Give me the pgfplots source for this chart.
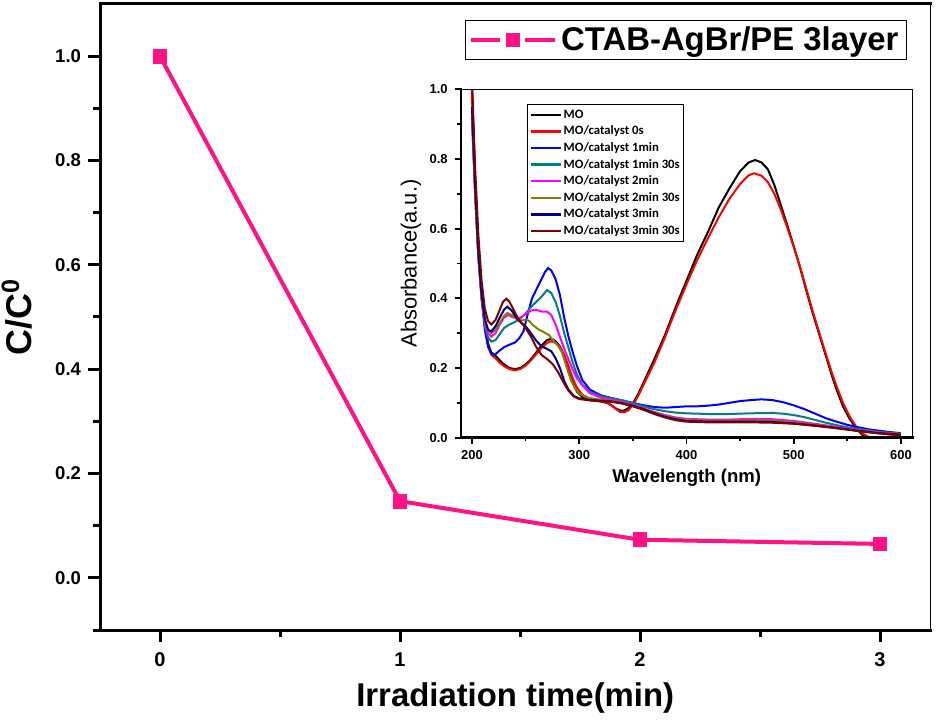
\documentclass[border=0pt]{standalone}
\usepackage{fontspec}
\setmainfont{Liberation Sans}
\newfontfamily\legfont{Carlito}
\usepackage{pgfplots}
\pgfplotsset{compat=1.18}
\definecolor{mopink}{HTML}{FF1283}
\definecolor{octeal}{HTML}{008080}
\definecolor{ocmag}{HTML}{FF00FF}
\definecolor{ocolive}{HTML}{808000}
\definecolor{ocnavy}{HTML}{000080}
\definecolor{ocwine}{HTML}{800000}

\begin{document}
\begin{tikzpicture}
% main decay curve
\begin{axis}[name=main, at={(0,0)}, anchor=south west, scale only axis,
  width=415.2bp, height=313bp,
  xmin=-0.25, xmax=3.21, ymin=-0.1, ymax=1.1,
  axis line style={draw=none},
  xtick={0,1,2,3}, minor xtick={0.5,1.5,2.5},
  ytick={0,0.2,0.4,0.6,0.8,1.0}, minor ytick={-0.1,0.1,0.3,0.5,0.7,0.9},
  tick pos=left, tick align=outside,
  major tick length=6bp, minor tick length=3.5bp,
  every tick/.style={black, line width=1.5bp},
  /pgf/number format/assume math mode=true,
  yticklabel style={font=\bfseries\fontsize{9.3}{10}\selectfont,
    /pgf/number format/fixed, /pgf/number format/fixed zerofill, /pgf/number format/precision=1},
  xticklabel style={font=\bfseries\fontsize{10}{11}\selectfont, yshift=-2bp},
  scaled y ticks=false,
  xlabel={Irradiation time(min)}, ylabel={C/C\textsuperscript{0}},
  xlabel style={at={(axis description cs:0.5,-0.1086)}, anchor=center, font=\bfseries\fontsize{16.5}{18}\selectfont},
  ylabel style={at={(axis description cs:-0.1,0.5)}, anchor=center, font=\bfseries\fontsize{18}{20}\selectfont},
  legend style={at={(0.972,0.974)}, anchor=north east, draw=black, line width=0.6bp,
    font=\bfseries\fontsize{16.5}{18}\selectfont, inner xsep=2bp, inner ysep=1bp},
  legend image code/.code={
    \draw[#1, mark=none] (0bp,0bp) -- (14.5bp,0bp);
    \draw[#1, mark=none] (27bp,0bp) -- (42bp,0bp);
    \draw[#1, only marks, mark size=2.5bp] plot coordinates {(21bp,0bp)};},
]
\addplot[mopink, line width=2bp, mark=square*, mark size=2.7bp, mark options={solid}]
  coordinates {(0,1.0) (1,0.147) (2,0.073) (3,0.065)};
\addlegendentry{CTAB-AgBr/PE 3layer}
\end{axis}

% inset: UV-vis spectra
\begin{axis}[name=ins, at={(180.35bp,96.15bp)}, anchor=south west, scale only axis,
  width=226bp, height=174.2bp,
  xmin=189.5, xmax=611, ymin=0, ymax=1,
  axis line style={draw=none},
  xtick={200,300,400,500,600}, minor xtick={250,350,450,550},
  ytick={0,0.2,0.4,0.6,0.8,1.0}, minor ytick={0.1,0.3,0.5,0.7,0.9},
  tick pos=left, tick align=outside,
  major tick length=3bp, minor tick length=1.8bp,
  every tick/.style={black, line width=0.9bp},
  /pgf/number format/assume math mode=true,
  tick label style={font=\bfseries\fontsize{6.5}{7}\selectfont},
  yticklabel style={/pgf/number format/fixed, /pgf/number format/fixed zerofill, /pgf/number format/precision=1},
  scaled y ticks=false,
  xlabel={Wavelength (nm)}, ylabel={Absorbance(a.u.)},
  xlabel style={at={(axis description cs:0.5,-0.115)}, anchor=center, font=\bfseries\fontsize{9.3}{10}\selectfont},
  ylabel style={at={(axis description cs:-0.11,0.5)}, anchor=center, font=\fontsize{11}{12}\selectfont},
  legend style={at={(0.147,0.958)}, anchor=north west, draw=black, line width=0.6bp,
    font=\legfont\bfseries\fontsize{6.4}{7}\selectfont, inner sep=1bp,
    nodes={inner sep=0.8bp, text height=5.1bp, text depth=1.6bp}},
  legend cell align=left,
  legend image code/.code={\draw[#1, line width=1.2bp] (0bp,0bp) -- (15bp,0bp);},
  every axis plot/.append style={line width=1bp},
]
\addplot[black] table {
200 1.00
203 0.74
206 0.55
209 0.42
212 0.33
215 0.27
218 0.245
222 0.235
226 0.222
230 0.21
235 0.2
240 0.197
245 0.2
250 0.21
255 0.225
260 0.245
265 0.265
270 0.28
274 0.284
278 0.277
282 0.262
286 0.235
290 0.195
294 0.158
298 0.132
303 0.116
310 0.108
320 0.104
326 0.1
330 0.093
334 0.084
338 0.078
342 0.078
346 0.085
350 0.098
355 0.125
360 0.158
370 0.225
380 0.295
390 0.375
400 0.45
410 0.525
420 0.59
430 0.66
440 0.715
450 0.765
458 0.79
464 0.797
470 0.79
476 0.77
482 0.725
488 0.668
494 0.61
500 0.55
506 0.488
512 0.42
518 0.355
524 0.295
530 0.235
536 0.175
540 0.138
546 0.09
552 0.055
558 0.028
564 0.008
570 -0.002
580 0.0
590 0.003
600 0.006
};
\addlegendentry{MO}
\addplot[red] table {
200 1.00
203 0.73
206 0.54
209 0.41
212 0.32
215 0.262
218 0.238
222 0.228
226 0.215
230 0.205
235 0.197
240 0.193
245 0.197
250 0.207
255 0.222
260 0.24
265 0.258
270 0.272
274 0.277
278 0.272
282 0.26
286 0.238
290 0.205
294 0.17
298 0.143
303 0.123
310 0.112
320 0.105
326 0.101
330 0.093
334 0.083
338 0.074
342 0.073
346 0.079
350 0.094
355 0.12
360 0.152
370 0.215
380 0.288
390 0.366
400 0.44
410 0.51
420 0.572
430 0.632
440 0.685
450 0.728
458 0.753
463 0.759
470 0.752
476 0.733
482 0.7
488 0.655
494 0.603
500 0.548
506 0.49
512 0.425
518 0.36
524 0.3
530 0.24
536 0.183
540 0.148
546 0.1
552 0.062
558 0.033
564 0.012
570 0.002
576 0.0
584 0.001
592 0.004
600 0.006
};
\addlegendentry{MO/catalyst 0s}
\addplot[blue] table {
200 0.95
203 0.7
206 0.52
209 0.4
212 0.31
215 0.262
218 0.243
221 0.237
225 0.248
230 0.26
235 0.267
240 0.273
244 0.285
248 0.305
252 0.355
256 0.4
260 0.425
264 0.45
268 0.475
271 0.487
274 0.48
278 0.455
282 0.41
286 0.345
290 0.29
294 0.245
298 0.205
303 0.165
310 0.138
320 0.122
330 0.114
340 0.107
350 0.1
360 0.093
370 0.088
380 0.086
390 0.088
400 0.09
410 0.09
420 0.092
430 0.095
440 0.1
450 0.105
460 0.108
470 0.11
480 0.108
490 0.102
500 0.093
510 0.082
520 0.069
530 0.056
540 0.046
550 0.037
560 0.03
570 0.024
580 0.02
590 0.016
600 0.013
};
\addlegendentry{MO/catalyst 1min}
\addplot[octeal] table {
200 0.92
203 0.7
206 0.52
209 0.4
212 0.32
215 0.288
218 0.276
222 0.28
226 0.298
230 0.315
235 0.325
240 0.332
245 0.342
250 0.356
255 0.375
260 0.39
265 0.405
270 0.424
274 0.415
278 0.39
282 0.35
286 0.3
290 0.258
294 0.215
298 0.18
303 0.152
310 0.132
320 0.12
330 0.113
340 0.107
350 0.1
360 0.09
370 0.082
380 0.076
390 0.072
400 0.07
420 0.068
440 0.068
460 0.07
480 0.071
490 0.069
500 0.065
510 0.059
520 0.051
530 0.043
540 0.036
550 0.03
560 0.025
570 0.021
580 0.017
590 0.014
600 0.012
};
\addlegendentry{MO/catalyst 1min 30s}
\addplot[ocmag] table {
200 0.92
203 0.7
206 0.52
209 0.4
212 0.33
215 0.3
218 0.29
222 0.3
226 0.325
230 0.345
234 0.352
238 0.346
242 0.341
246 0.346
250 0.355
255 0.365
260 0.367
265 0.362
270 0.362
274 0.352
278 0.325
282 0.29
286 0.255
290 0.225
294 0.195
298 0.17
303 0.15
310 0.128
320 0.115
330 0.109
340 0.103
350 0.095
360 0.085
370 0.074
380 0.065
390 0.058
400 0.054
420 0.052
440 0.052
460 0.054
480 0.053
500 0.048
520 0.04
540 0.031
560 0.022
580 0.015
600 0.01
};
\addlegendentry{MO/catalyst 2min}
\addplot[ocolive] table {
200 0.93
203 0.7
206 0.52
209 0.41
212 0.34
215 0.31
218 0.3
222 0.31
226 0.33
230 0.35
233 0.358
237 0.352
241 0.343
245 0.336
250 0.338
253 0.336
257 0.323
262 0.311
267 0.303
272 0.294
276 0.278
280 0.265
284 0.245
288 0.205
292 0.168
296 0.142
300 0.127
306 0.116
315 0.111
330 0.106
340 0.1
350 0.093
360 0.083
370 0.072
380 0.062
390 0.055
400 0.051
420 0.049
440 0.049
460 0.05
480 0.049
500 0.044
520 0.037
540 0.029
560 0.02
580 0.013
600 0.01
};
\addlegendentry{MO/catalyst 2min 30s}
\addplot[ocnavy] table {
200 0.95
203 0.72
206 0.53
209 0.41
212 0.34
215 0.31
218 0.305
222 0.32
226 0.345
230 0.368
233 0.376
237 0.365
241 0.346
245 0.332
250 0.32
255 0.3
260 0.278
265 0.262
270 0.255
274 0.248
278 0.228
282 0.2
286 0.163
290 0.138
295 0.12
300 0.113
310 0.108
320 0.106
330 0.104
340 0.099
350 0.092
360 0.082
370 0.07
380 0.06
390 0.053
400 0.048
420 0.046
440 0.046
460 0.046
480 0.045
500 0.041
520 0.035
540 0.028
560 0.02
580 0.013
600 0.009
};
\addlegendentry{MO/catalyst 3min}
\addplot[ocwine] table {
200 1.03
203 0.77
206 0.58
209 0.45
212 0.37
215 0.335
218 0.325
222 0.338
226 0.368
229 0.39
232 0.399
235 0.39
238 0.372
242 0.348
246 0.33
250 0.315
255 0.29
260 0.26
265 0.237
270 0.226
275 0.212
280 0.19
286 0.155
290 0.135
295 0.118
300 0.111
310 0.107
320 0.105
330 0.103
340 0.098
350 0.09
360 0.08
370 0.068
380 0.058
390 0.05
400 0.046
420 0.044
440 0.044
460 0.044
480 0.043
500 0.04
520 0.034
540 0.027
560 0.019
580 0.012
600 0.008
};
\addlegendentry{MO/catalyst 3min 30s}
\end{axis}

% Origin-style frames: thick left/bottom/top, thin right
\draw[line width=1.5bp, line cap=rect] (main.north east) -- (main.north west) -- (main.south west) -- (main.south east);
\draw[line width=0.5bp] (main.south east) -- (main.north east);
\draw[line width=1.2bp, line cap=rect] (ins.north west) -- (ins.south west) -- (ins.south east);
\draw[line width=0.7bp] (ins.south east) -- (ins.north east) -- (ins.north west);

\pgfresetboundingbox
\useasboundingbox (-50bp,-45bp) rectangle (418.5bp,315bp);
\end{tikzpicture}
\end{document}
